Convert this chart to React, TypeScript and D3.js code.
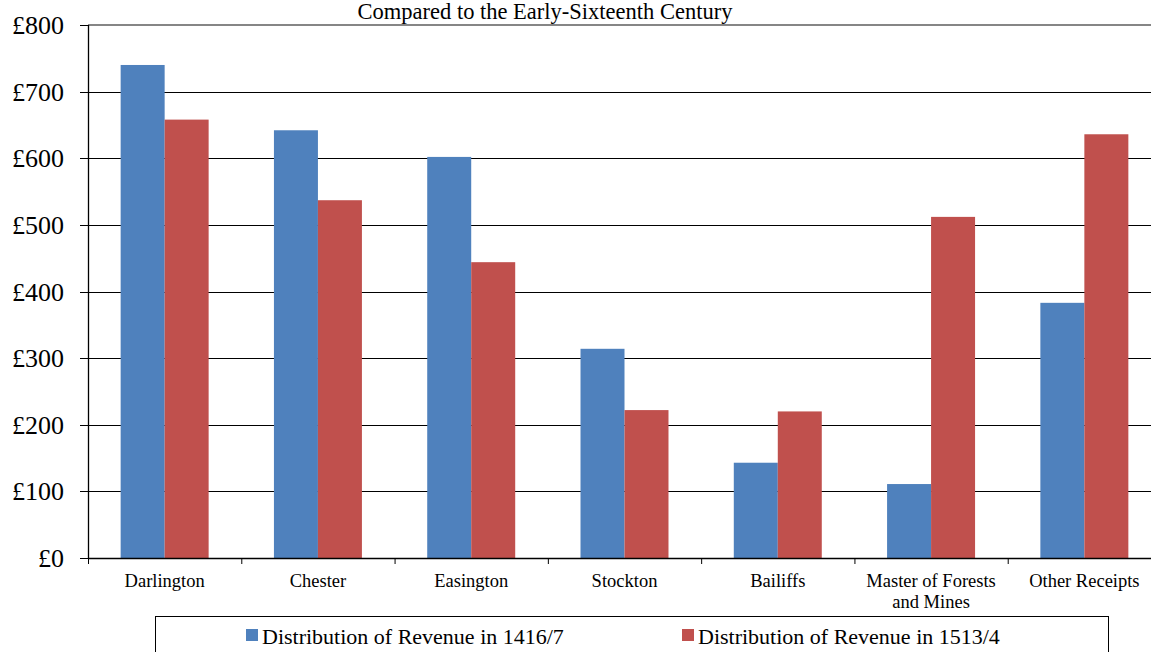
import * as d3 from 'd3';

const categories = ['Darlington', 'Chester', 'Easington', 'Stockton', 'Bailiffs', 'Master of Forests\nand Mines', 'Other Receipts'];
const revenue1416 = [740, 642, 602, 314, 143, 111, 383];
const revenue1513 = [658, 537, 444, 222, 220, 512, 636];
const seriesNames = ['Distribution of Revenue in 1416/7', 'Distribution of Revenue in 1513/4'];
const seriesColors = ['#4F81BD', '#C0504D'];
const yTicks = [0, 100, 200, 300, 400, 500, 600, 700, 800];

const W = 1151;
const H = 652;
const FONT = 'Liberation Serif, Times New Roman, Times, serif';

export default function App() {
  const left = 88;
  const right = 1161;
  const top = 25;
  const bottom = 558;

  const x = d3.scaleBand<string>().domain(categories).range([left, right]).paddingInner(0).paddingOuter(0);
  const y = d3.scaleLinear().domain([0, 800]).range([bottom, top]);
  const groupPad = 0.213;
  const inner = d3.scaleBand<number>()
    .domain([0, 1])
    .range([x.bandwidth() * groupPad, x.bandwidth() * (1 - groupPad)]);

  const series = [revenue1416, revenue1513];

  return (
    <div style={{ position: 'absolute', left: 0, top: 0 }}>
      <svg width={W} height={H} style={{ display: 'block' }} fontFamily={FONT}>
        <rect width={W} height={H} fill="#fff" />
        <text x={545} y={19} textAnchor="middle" fontSize={22.5} fill="#000" fontFamily={FONT}>
          Compared to the Early-Sixteenth Century
        </text>

        {/* gridlines */}
        {yTicks.filter(t => t > 0 && t < 800).map(t => (
          <line key={t} x1={left} x2={W} y1={Math.round(y(t)) + 0.5} y2={Math.round(y(t)) + 0.5} stroke="#000" strokeWidth={1} />
        ))}
        <line x1={left} x2={W} y1={y(800)} y2={y(800)} stroke="#868686" strokeWidth={2} />

        {/* bars */}
        {categories.map((c, i) => (
          <g key={c} transform={`translate(${x(c)},0)`}>
            {series.map((s, k) => (
              <rect
                key={k}
                x={inner(k)}
                y={y(s[i])}
                width={inner.bandwidth()}
                height={y(0) - y(s[i])}
                fill={seriesColors[k]}
              />
            ))}
          </g>
        ))}

        {/* y axis */}
        <line x1={left + 0.5} x2={left + 0.5} y1={top} y2={bottom + 1} stroke="#000" strokeWidth={1.3} />
        {yTicks.map(t => (
          <g key={t}>
            <line x1={80} x2={left} y1={Math.round(y(t)) + 0.5} y2={Math.round(y(t)) + 0.5} stroke="#000" strokeWidth={1} />
            <text x={64} y={y(t)} dy="0.35em" textAnchor="end" fontSize={26} fill="#000" fontFamily={FONT}>
              {'£' + t}
            </text>
          </g>
        ))}

        {/* x axis */}
        <line x1={left} x2={W} y1={bottom + 0.5} y2={bottom + 0.5} stroke="#000" strokeWidth={1.3} />
        {categories.map(c => (
          <line key={'t' + c} x1={(x(c) as number) + 0.5} x2={(x(c) as number) + 0.5} y1={bottom} y2={bottom + 6} stroke="#000" />
        ))}
        {categories.map(c => (
          <text key={'l' + c} x={(x(c) as number) + x.bandwidth() / 2} y={587} textAnchor="middle" fontSize={18.5} fill="#000" fontFamily={FONT}>
            {c.split('\n').map((line, j) => (
              <tspan key={j} x={(x(c) as number) + x.bandwidth() / 2} dy={j === 0 ? 0 : 21}>{line}</tspan>
            ))}
          </text>
        ))}

        {/* legend */}
        <rect x={155.5} y={616.5} width={953} height={50} fill="#fff" stroke="#000" strokeWidth={1} />
        {seriesNames.map((n, k) => (
          <g key={n} transform={`translate(${k === 0 ? 246 : 682},0)`}>
            <rect x={0} y={629} width={12} height={12} fill={seriesColors[k]} />
            <text x={16} y={644} fontSize={22} fill="#000" fontFamily={FONT}>{n}</text>
          </g>
        ))}
      </svg>
    </div>
  );
}
